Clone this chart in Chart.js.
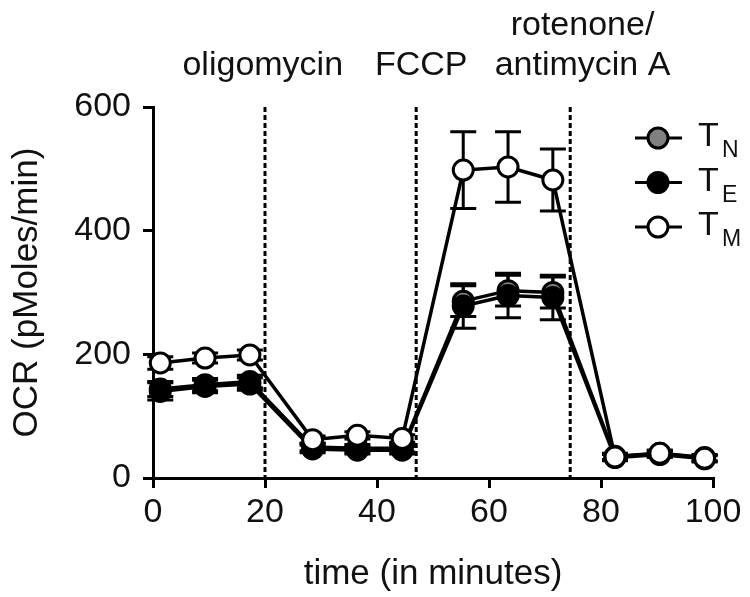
<!DOCTYPE html>
<html>
<head>
<meta charset="utf-8">
<script src="https://cdn.jsdelivr.net/npm/chart.js@4/dist/chart.umd.min.js"></script>
<style>
  html, body { margin: 0; padding: 0; background: #fff; }
  #wrap { width: 750px; height: 597px; }
</style>
</head>
<body>
<div id="wrap"><canvas id="ocrChart"></canvas></div>
<script>
// measurement times (min)
const times = [1.3, 9.3, 17.3, 28.5, 36.5, 44.5, 55.4, 63.4, 71.4, 82.5, 90.5, 98.5];

// OCR means and error (pMoles/min)
const tN = [144, 151, 156, 50, 48, 48, 286, 303, 300, 35, 40, 33];
const tE = [140, 148, 152, 47, 45, 45, 278, 295, 292, 33, 38, 31];
const tM = [186, 194, 199, 62, 69, 64, 498, 503, 482, 34, 40, 32];
const tNErr = [12, 10, 10, 6, 6, 6, 25, 25, 25, 5, 5, 5];
const tEErr = [14, 10, 10, 6, 6, 6, 36, 36, 36, 5, 5, 5];
const tMErr = [10, 8, 8, 6, 6, 6, 62, 57, 50, 5, 5, 5];

// injections
const injectionTimes = [20, 47, 74.5];
const injectionLabels = [['oligomycin'], ['FCCP'], ['rotenone/', 'antimycin A']];

const xTicks = [0, 20, 40, 60, 80, 100];
const yTicks = [0, 200, 400, 600];

const FONT = '"Liberation Sans", Arial, sans-serif';

function series(name, sub, values, errors, fill, order) {
  return {
    label: name,
    sub: sub,
    errors: errors,
    data: times.map((t, i) => ({ x: t, y: values[i] })),
    borderColor: '#000',
    borderWidth: 3.5,
    pointRadius: 10,
    pointBorderWidth: 3,
    pointBackgroundColor: fill,
    pointBorderColor: '#000',
    backgroundColor: fill,
    tension: 0,
    clip: false,
    order: order
  };
}

const extras = {
  id: 'extras',
  beforeDatasetsDraw(chart) {
    const { ctx, chartArea, scales: { x, y } } = chart;
    ctx.save();
    // dashed injection lines
    ctx.strokeStyle = '#000';
    ctx.lineWidth = 3;
    ctx.setLineDash([5, 3]);
    injectionTimes.forEach(t => {
      const px = x.getPixelForValue(t);
      ctx.beginPath();
      ctx.moveTo(px, chartArea.top);
      ctx.lineTo(px, chartArea.bottom);
      ctx.stroke();
    });
    ctx.setLineDash([]);
    // error bars
    ctx.lineWidth = 3;
    chart.data.datasets.forEach(ds => {
      ds.data.forEach((p, i) => {
        const e = ds.errors[i];
        const px = x.getPixelForValue(p.x);
        const top = y.getPixelForValue(p.y + e);
        const bot = y.getPixelForValue(p.y - e);
        ctx.beginPath();
        ctx.moveTo(px, top); ctx.lineTo(px, bot);
        ctx.moveTo(px - 13, top); ctx.lineTo(px + 13, top);
        ctx.moveTo(px - 13, bot); ctx.lineTo(px + 13, bot);
        ctx.stroke();
      });
    });
    ctx.restore();
  },
  afterDraw(chart) {
    const { ctx, scales: { x } } = chart;
    ctx.save();
    ctx.fillStyle = '#111';
    ctx.textAlign = 'center';
    ctx.textBaseline = 'alphabetic';
    ctx.font = '34px ' + FONT;
    // injection labels above the plot
    const shifts = [-0.4, 0.9, 2.2];
    injectionLabels.forEach((lines, i) => {
      const px = x.getPixelForValue(injectionTimes[i] + shifts[i]);
      lines.forEach((txt, j) => {
        ctx.fillText(txt, px, 75 - (lines.length - 1 - j) * 40);
      });
    });
    // legend with subscripts
    chart.data.datasets.forEach((ds, i) => {
      const cy = 138 + i * 44.5;
      ctx.strokeStyle = '#000';
      ctx.lineWidth = 3;
      ctx.beginPath();
      ctx.moveTo(635, cy); ctx.lineTo(682, cy);
      ctx.stroke();
      ctx.beginPath();
      ctx.arc(658, cy, 10, 0, Math.PI * 2);
      ctx.fillStyle = ds.pointBackgroundColor;
      ctx.fill();
      ctx.stroke();
      ctx.fillStyle = '#111';
      ctx.textAlign = 'left';
      ctx.font = '34px ' + FONT;
      ctx.fillText(ds.label, 698, cy + 8);
      ctx.font = '23px ' + FONT;
      ctx.fillText(ds.sub, 722, cy + 19);
    });
    ctx.restore();
  }
};

new Chart(document.getElementById('ocrChart'), {
  type: 'line',
  data: {
    datasets: [
      series('T', 'N', tN, tNErr, '#808080', 3),
      series('T', 'E', tE, tEErr, '#000000', 2),
      series('T', 'M', tM, tMErr, '#ffffff', 1)
    ]
  },
  options: {
    responsive: true,
    maintainAspectRatio: false,
    animation: false,
    layout: { padding: { top: 107, right: 37, left: 6, bottom: 0 } },
    plugins: {
      legend: { display: false },
      tooltip: { enabled: false }
    },
    scales: {
      x: {
        type: 'linear',
        min: 0,
        max: 100,
        afterFit: s => { s.height = 119; },
        afterBuildTicks: s => { s.ticks = xTicks.map(v => ({ value: v })); },
        ticks: { color: '#111', padding: 4, font: { size: 34, family: FONT } },
        grid: { drawOnChartArea: false, drawTicks: true, tickLength: 10, color: '#000', lineWidth: 3 },
        border: { color: '#000', width: 3 },
        title: { display: true, text: 'time (in minutes)', color: '#111', padding: { top: 0, bottom: 2 }, font: { size: 35, family: FONT } }
      },
      y: {
        min: 0,
        max: 600,
        afterFit: s => { s.width = 147; },
        afterBuildTicks: s => { s.ticks = yTicks.map(v => ({ value: v })); },
        ticks: { color: '#111', padding: 12, font: { size: 34, family: FONT } },
        grid: { drawOnChartArea: false, drawTicks: true, tickLength: 10, color: '#000', lineWidth: 3 },
        border: { color: '#000', width: 3 },
        title: { display: true, text: 'OCR (pMoles/min)', color: '#111', padding: 0, font: { size: 35, family: FONT } }
      }
    }
  },
  plugins: [extras]
});
</script>
</body>
</html>
